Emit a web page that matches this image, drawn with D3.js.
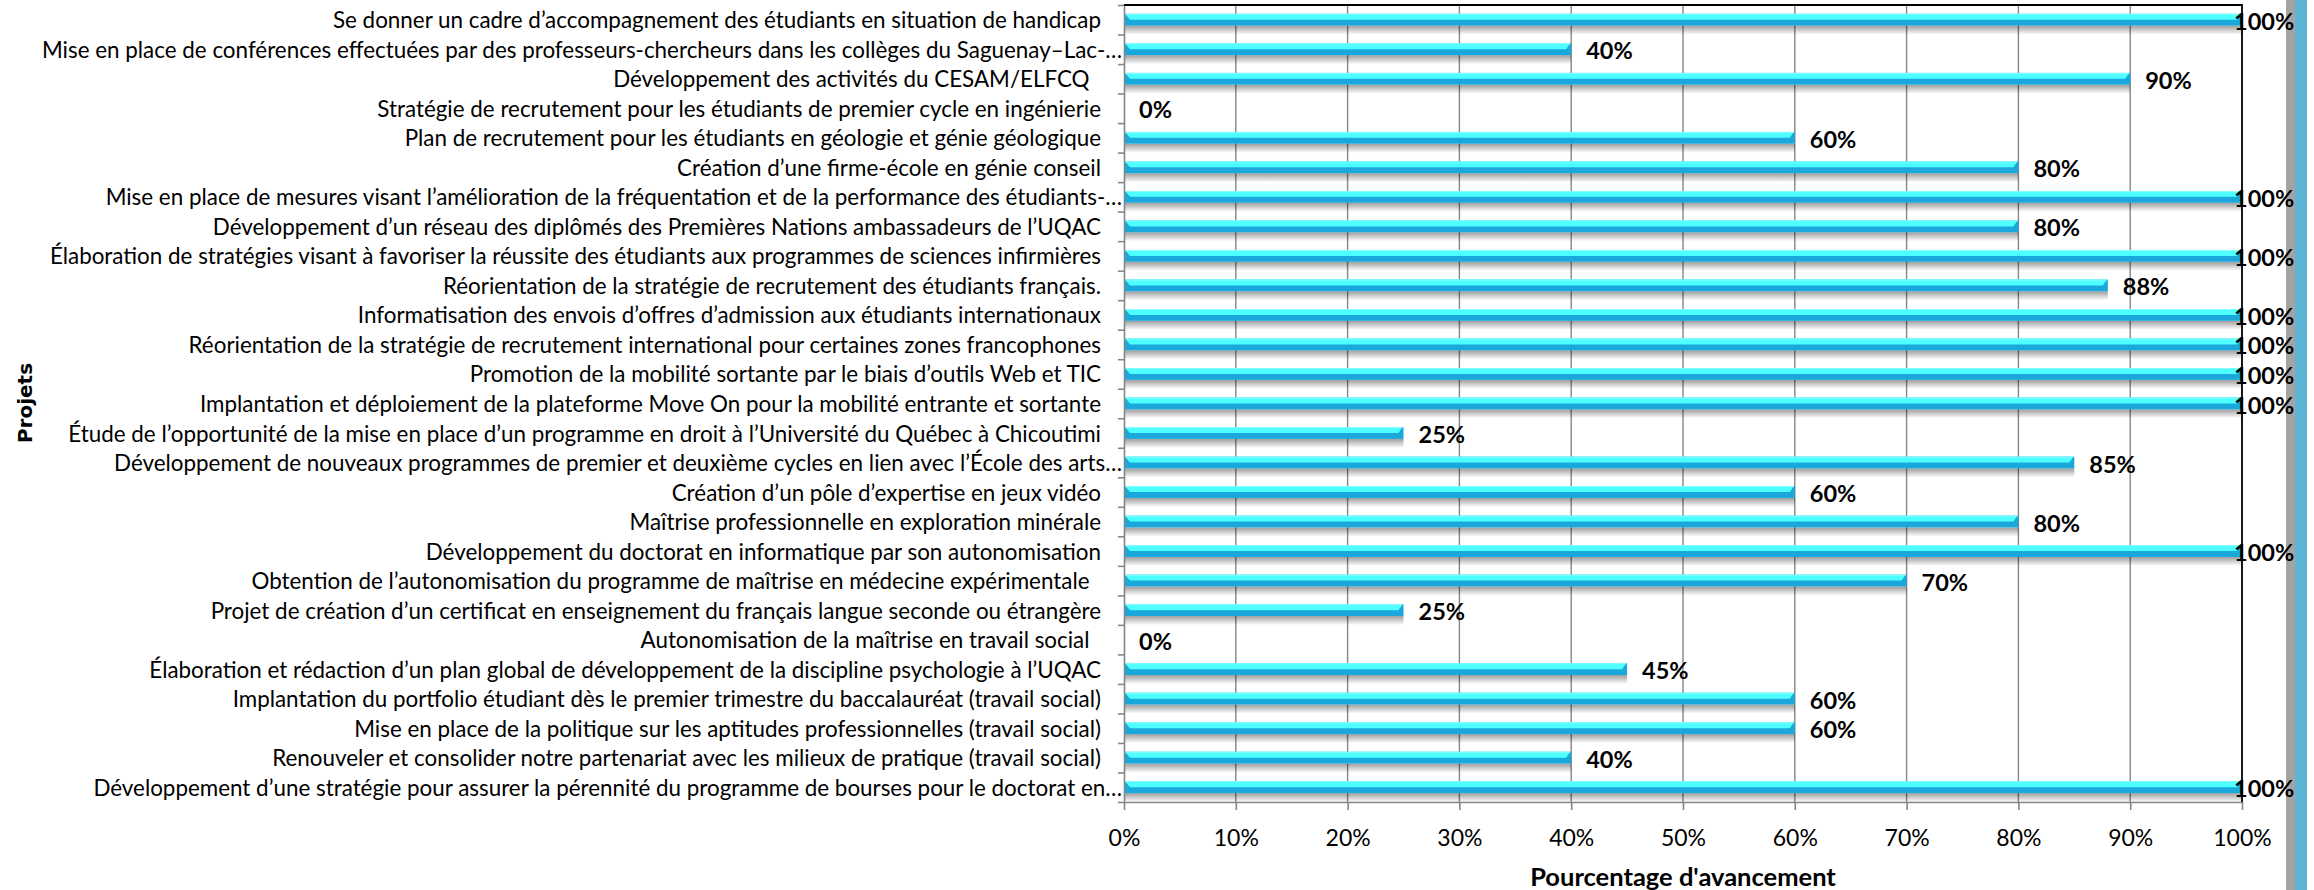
<!DOCTYPE html>
<meta charset="utf-8">
<script src="https://d3js.org/d3.v7.min.js"></script>
<style>
    body { margin: 0; background: #fff; }
    text { font-family: Lato, "Liberation Sans", sans-serif; fill: #000; }
</style>
<body>
    <div id="chart"></div>
</body>
<script>
    // projets, de haut en bas
    const projets = [
        "Se donner un cadre d’accompagnement des étudiants en situation de handicap",
        "Mise en place de conférences effectuées par des professeurs-chercheurs dans les collèges du Saguenay–Lac-…",
        "Développement des activités du CESAM/ELFCQ  ",
        "Stratégie de recrutement pour les étudiants de premier cycle en ingénierie",
        "Plan de recrutement pour les étudiants en géologie et génie géologique",
        "Création d’une firme-école en génie conseil",
        "Mise en place de mesures visant l’amélioration de la fréquentation et de la performance des étudiants-…",
        "Développement d’un réseau des diplômés des Premières Nations ambassadeurs de l’UQAC",
        "Élaboration de stratégies visant à favoriser la réussite des étudiants aux programmes de sciences infirmières",
        "Réorientation de la stratégie de recrutement des étudiants français.",
        "Informatisation des envois d’offres d’admission aux étudiants internationaux",
        "Réorientation de la stratégie de recrutement international pour certaines zones francophones",
        "Promotion de la mobilité sortante par le biais d’outils Web et TIC",
        "Implantation et déploiement de la plateforme Move On pour la mobilité entrante et sortante",
        "Étude de l’opportunité de la mise en place d’un programme en droit à l’Université du Québec à Chicoutimi",
        "Développement de nouveaux programmes de premier et deuxième cycles en lien avec l’École des arts…",
        "Création d’un pôle d’expertise en jeux vidéo",
        "Maîtrise professionnelle en exploration minérale",
        "Développement du doctorat en informatique par son autonomisation",
        "Obtention de l’autonomisation du programme de maîtrise en médecine expérimentale  ",
        "Projet de création d’un certificat en enseignement du français langue seconde ou étrangère",
        "Autonomisation de la maîtrise en travail social  ",
        "Élaboration et rédaction d’un plan global de développement de la discipline psychologie à l’UQAC",
        "Implantation du portfolio étudiant dès le premier trimestre du baccalauréat (travail social)",
        "Mise en place de la politique sur les aptitudes professionnelles (travail social)",
        "Renouveler et consolider notre partenariat avec les milieux de pratique (travail social)",
        "Développement d’une stratégie pour assurer la pérennité du programme de bourses pour le doctorat en…"
    ];

    const avancement = [1.00, 0.40, 0.90, 0.00, 0.60, 0.80, 1.00, 0.80, 1.00, 0.88,
        1.00, 1.00, 1.00, 1.00, 0.25, 0.85, 0.60, 0.80, 1.00, 0.70,
        0.25, 0.00, 0.45, 0.60, 0.60, 0.40, 1.00];

    const xTicks = [0, 0.1, 0.2, 0.3, 0.4, 0.5, 0.6, 0.7, 0.8, 0.9, 1.0];

    const xTitle = "Pourcentage d'avancement";
    const yTitle = "Projets";

    const W = 2314,
        H = 890;
    const plot = { left: 1124, right: 2242, top: 5, bottom: 802 };

    const svg = d3.select("#chart")
        .append("svg")
        .attr("width", W)
        .attr("height", H);

    const x = d3.scaleLinear().domain([0, 1]).range([plot.left, plot.right]);
    const y = d3.scaleBand()
        .domain(d3.range(projets.length))
        .range([plot.top, plot.bottom])
        .paddingInner(0.6)
        .paddingOuter(0.3);
    const yEdges = d3.scaleLinear().domain([0, projets.length]).range([plot.top, plot.bottom]);

    // right edge bands
    svg.append("rect").attr("x", 2286).attr("y", 0).attr("width", 9).attr("height", H).attr("fill", "#a3a3a3");
    svg.append("rect").attr("x", 2295).attr("y", 0).attr("width", 12).attr("height", H).attr("fill", "#5cb5d4");

    // shadow gradient under the bars
    const defs = svg.append("defs");
    const grad = defs.append("linearGradient")
        .attr("id", "shadow")
        .attr("x1", 0).attr("y1", 0).attr("x2", 0).attr("y2", 1);
    grad.append("stop").attr("offset", "0%").attr("stop-color", "#000").attr("stop-opacity", 0.38);
    grad.append("stop").attr("offset", "100%").attr("stop-color", "#000").attr("stop-opacity", 0);

    // vertical gridlines
    svg.append("g")
        .selectAll("line")
        .data(xTicks.slice(1, -1))
        .join("line")
        .attr("x1", d => x(d)).attr("x2", d => x(d))
        .attr("y1", plot.top).attr("y2", plot.bottom)
        .attr("stroke", "#868686")
        .attr("stroke-width", 1.4);

    // bars
    const bw = y.bandwidth();
    const bars = svg.append("g")
        .selectAll("g")
        .data(avancement.map((v, i) => ({ v, i })).filter(d => d.v > 0))
        .join("g");

    bars.append("rect")
        .attr("x", x(0) + 1)
        .attr("y", d => y(d.i) + bw)
        .attr("width", d => x(d.v) - x(0) - 1)
        .attr("height", 9)
        .attr("fill", "url(#shadow)");

    bars.append("rect")
        .attr("x", x(0) + 1)
        .attr("y", d => y(d.i))
        .attr("width", d => x(d.v) - x(0) - 1)
        .attr("height", bw)
        .attr("fill", "#1aa7dc");

    const hc = bw * 0.5;
    bars.append("polygon")
        .attr("points", d => {
            const x0 = x(0) + 1,
                x1 = x(d.v) - 1,
                t = y(d.i);
            return [[x0, t], [x1, t], [x1 - 4, t + hc], [x0 + 5, t + hc]].join(" ");
        })
        .attr("fill", "#4dffff");

    bars.append("line")
        .attr("x1", x(0) + 1)
        .attr("x2", d => x(d.v) - 1)
        .attr("y1", d => y(d.i) + 0.5)
        .attr("y2", d => y(d.i) + 0.5)
        .attr("stroke", "#8affff")
        .attr("stroke-width", 1);

    // left axis with ticks between categories
    const yAxis = svg.append("g")
        .attr("transform", `translate(${plot.left},0)`)
        .call(d3.axisLeft(yEdges).tickValues(d3.range(projets.length + 1)).tickFormat("").tickSize(6).tickSizeOuter(0));
    yAxis.selectAll("line, path").attr("stroke", "#868686").attr("stroke-width", 1.6);

    // bottom axis
    const xAxis = svg.append("g")
        .attr("transform", `translate(0,${plot.bottom})`)
        .call(d3.axisBottom(x).tickValues(xTicks).tickFormat(d3.format(".0%")).tickSize(8).tickSizeOuter(0).tickPadding(20));
    xAxis.selectAll("line, path").attr("stroke", "#868686").attr("stroke-width", 1.6);
    xAxis.selectAll("text")
        .style("font-family", "Lato, 'Liberation Sans', sans-serif")
        .style("font-size", "23px")
        .attr("fill", "#000");

    // top and right border
    svg.append("path")
        .attr("d", `M${plot.left},${plot.top}H${plot.right}V${plot.bottom}`)
        .attr("fill", "none")
        .attr("stroke", "#000")
        .attr("stroke-width", 1.8);

    // category labels
    svg.append("g")
        .selectAll("text")
        .data(projets)
        .join("text")
        .attr("x", d => d.endsWith("…") ? plot.left - 2 : plot.left - 23)
        .attr("y", (d, i) => y(i) + bw / 2)
        .attr("text-anchor", "end")
        .attr("dominant-baseline", "central")
        .style("white-space", "pre")
        .style("font-size", "22.4px")
        .text(d => d);

    // data labels
    svg.append("g")
        .selectAll("text")
        .data(avancement)
        .join("text")
        .attr("x", d => Math.min(x(d) + 15, plot.right - 8))
        .attr("y", (d, i) => y(i) + bw / 2 + 1)
        .attr("dominant-baseline", "central")
        .style("font-size", "23.5px")
        .style("font-weight", "bold")
        .text(d => d3.format(".0%")(d));

    // axis titles
    svg.append("text")
        .attr("x", (plot.left + plot.right) / 2)
        .attr("y", 886)
        .attr("text-anchor", "middle")
        .style("font-size", "25.5px")
        .style("font-weight", "bold")
        .text(xTitle);

    svg.append("text")
        .attr("transform", "translate(25,403) rotate(-90)")
        .attr("text-anchor", "middle")
        .attr("dominant-baseline", "central")
        .style("font-family", "'DejaVu Sans', sans-serif")
        .style("font-size", "20px")
        .style("font-weight", "bold")
        .text(yTitle);
</script>
